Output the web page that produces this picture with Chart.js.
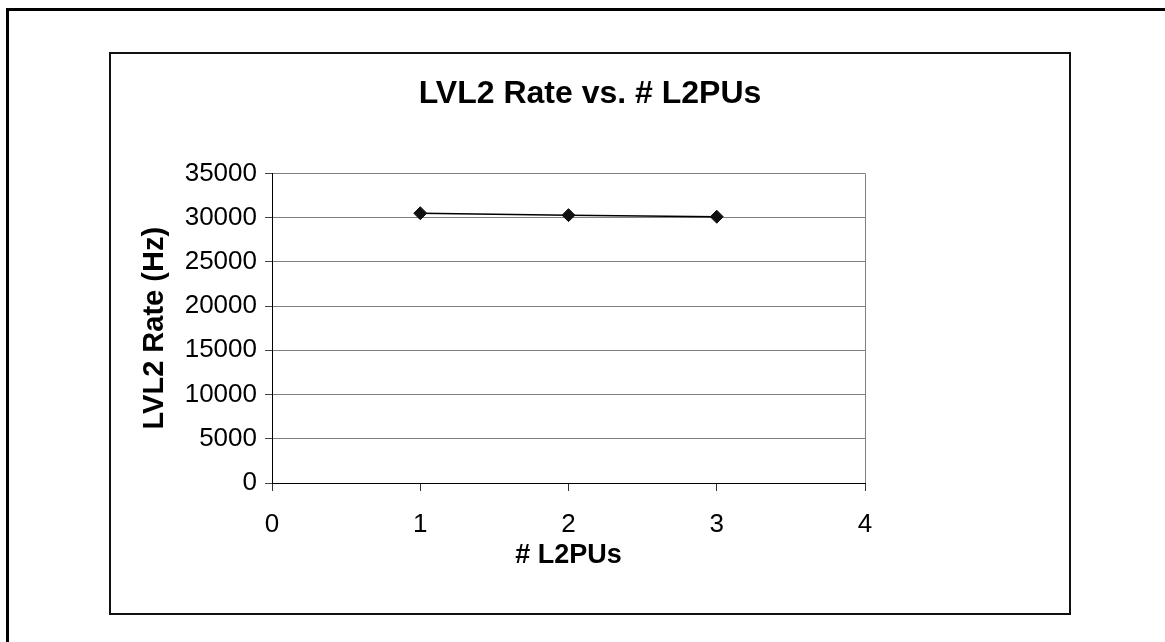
<!DOCTYPE html>
<html>
<head>
<meta charset="utf-8">
<title>LVL2 Rate vs. # L2PUs</title>
<script src="https://cdn.jsdelivr.net/npm/chart.js@4/dist/chart.umd.min.js"></script>
<style>
  html, body { margin: 0; padding: 0; background: #fff; width: 1165px; height: 642px; overflow: hidden; }
  /* borde exterior (se sale por la derecha y por abajo) */
  #outer { position: absolute; left: 6px; top: 8px; width: 1300px; height: 800px; border: 3px solid #000; }
  /* marco del área del gráfico */
  #frame { position: absolute; left: 109px; top: 52px; width: 962px; height: 563px; border: 2px solid #111; box-sizing: border-box; }
  #chartCanvas { position: absolute; left: 111px; top: 54px; }
</style>
</head>
<body>
<div id="outer"></div>
<div id="frame"></div>
<canvas id="chartCanvas" width="958" height="559"></canvas>
<script>
// Datos del gráfico
const l2puCount = [1, 2, 3];
const lvl2Rate = [30500, 30280, 30100];

// Textos
const chartTitle = 'LVL2 Rate vs. # L2PUs';
const xAxisTitle = '# L2PUs';
const yAxisTitle = 'LVL2 Rate (Hz)';

const family = "'Liberation Sans', Arial, sans-serif";
const gridGray = '#808080';

const points = l2puCount.map((x, i) => ({ x: x, y: lvl2Rate[i] }));

const ctx = document.getElementById('chartCanvas').getContext('2d');
const chart = new Chart(ctx, {
    type: 'scatter',
    data: {
        datasets: [{
            data: points,
            showLine: true,
            borderColor: '#000',
            borderWidth: 1.5,
            pointStyle: 'rectRot',
            pointRadius: 6.5,
            pointBackgroundColor: '#111',
            pointBorderColor: '#111',
            pointBorderWidth: 1
        }]
    },
    options: {
        responsive: false,
        animation: false,
        devicePixelRatio: 1,
        plugins: {
            legend: { display: false },
            tooltip: { enabled: false },
            title: {
                display: true,
                text: chartTitle,
                color: '#000',
                font: { family: family, size: 32, weight: 'bold' },
                padding: { top: 21, bottom: 60 }
            }
        },
        scales: {
            x: {
                type: 'linear',
                min: 0,
                max: 4,
                ticks: {
                    stepSize: 1, color: '#000', padding: 18,
                    font: { family: family, size: 26 },
                    callback: v => String(v)
                },
                grid: {
                    color: c => (c.tick && c.tick.value === 4) ? gridGray : 'rgba(0,0,0,0)',
                    tickColor: '#333',
                    tickLength: 8
                },
                border: { color: '#000', width: 1 },
                title: {
                    display: true,
                    text: xAxisTitle,
                    color: '#000',
                    font: { family: family, size: 27, weight: 'bold' },
                    padding: { top: 0, bottom: 41 }
                },
                afterFit: s => { s.height = 130; }
            },
            y: {
                min: 0,
                max: 35000,
                ticks: {
                    stepSize: 5000, color: '#000', padding: 8,
                    font: { family: family, size: 26 },
                    callback: v => String(v)
                },
                grid: {
                    color: c => (c.tick && c.tick.value === 0) ? '#000' : gridGray,
                    tickColor: '#444',
                    tickLength: 7
                },
                border: { color: '#000', width: 1 },
                title: {
                    display: true,
                    text: yAxisTitle,
                    color: '#000',
                    font: { family: family, size: 29, weight: 'bold' },
                    padding: { top: 27, bottom: 0 }
                },
                afterFit: s => { s.width = 161; }
            },
            // eje vacío a la derecha: deja el hueco sin mover el título
            blank: {
                type: 'linear',
                position: 'right',
                display: true,
                grid: { display: false },
                border: { display: false },
                ticks: { display: false },
                afterFit: s => { s.width = 204; }
            }
        }
    }
});
</script>
</body>
</html>
